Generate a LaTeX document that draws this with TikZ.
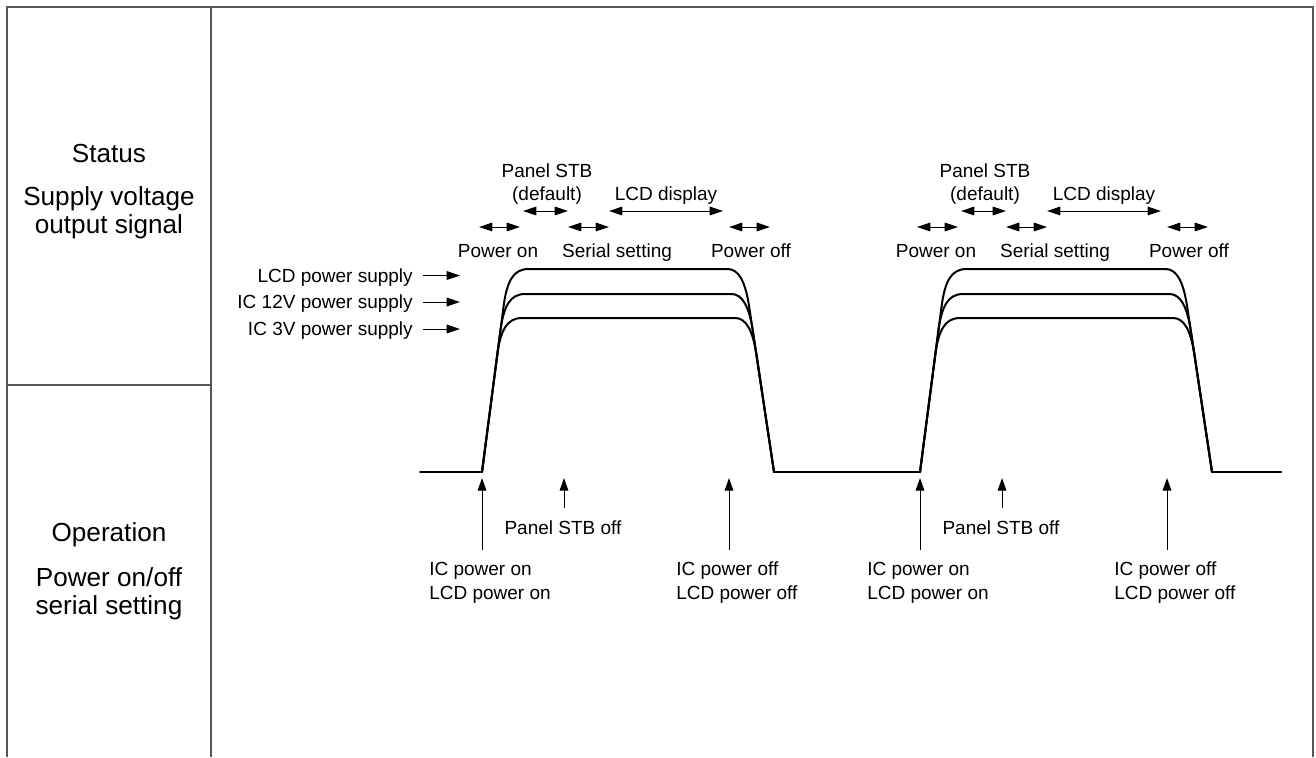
\documentclass[tikz,border=0pt]{standalone}
\usepackage{fontspec}
\setmainfont{Liberation Sans}
\usetikzlibrary{arrows.meta}
\definecolor{framegray}{RGB}{85,85,85}
\begin{document}
\begin{tikzpicture}[x=0.75pt,y=-0.75pt,
  frame/.style={line width=1.5pt,draw=framegray},
  wave/.style={line width=1.5pt,line join=round,line cap=round},
  lbl/.style={font=\fontsize{14.25}{17}\selectfont,inner sep=0pt,anchor=base},
  big/.style={font=\fontsize{19.6}{23}\selectfont,inner sep=0pt,anchor=base},
  dbl/.style={line width=0.75pt,{Triangle[length=10pt,width=6.5pt]}-{Triangle[length=10pt,width=6.5pt]}},
  sarr/.style={line width=0.75pt,-{Triangle[length=10pt,width=6.5pt]}},
  varr/.style={line width=0.75pt,-{Triangle[length=9.5pt,width=6.5pt]}}
]
\useasboundingbox (0,0) rectangle (1316,757);
% frame
\draw[frame] (7,757) -- (7,7) -- (1313,7) -- (1313,757);
\draw[frame] (211,7) -- (211,757);
\draw[frame] (7,385) -- (211,385);
% left column
\node[big] (status) at (109,162) {Status};
\node[big] (supv) at (109,205) {Supply voltage};
\node[big] (outs) at (109,233) {output signal};
\node[big] (oper) at (109,541) {Operation};
\node[big] (ponoff) at (109,586) {Power on/off};
\node[big] (sset) at (109,614) {serial setting};
% supply labels
\node[lbl,anchor=base east] (lcdps) at (413,282.3) {LCD power supply};
\node[lbl,anchor=base east] (ic12) at (413,308.8) {IC 12V power supply};
\node[lbl,anchor=base east] (ic3) at (413,335.8) {IC 3V power supply};
\coordinate (a1s) at (423,275.5); \coordinate (a1e) at (460,275.5);
\coordinate (a2s) at (423,302); \coordinate (a2e) at (460,302);
\coordinate (a3s) at (423,329); \coordinate (a3e) at (460,329);
\draw[sarr] (a1s) -- (a1e);
\draw[sarr] (a2s) -- (a2e);
\draw[sarr] (a3s) -- (a3e);
% baselines
\draw[wave] (420,472) -- (482,472);
\draw[wave] (774,472) -- (920,472);
\draw[wave] (1212,472) -- (1281,472);
\foreach \i/\dx in {1/0,2/438} {
\begin{scope}[shift={(\dx,0)}]
  % waveforms
  \draw[wave] (482,472) -- (503.5,307) .. controls (506.8,281) and (513.4,269) .. (528.4,269)
     -- (727.5,269) .. controls (738.5,269) and (745.3,281) .. (749.2,307) -- (774,472);
  \draw[wave] (482,472) -- (500.2,332) .. controls (503.5,306) and (510.1,294) .. (525.1,294)
     -- (731.3,294) .. controls (742.3,294) and (749.1,306) .. (753,332) -- (774,472);
  \draw[wave] (482,472) -- (497.1,356) .. controls (500.4,330) and (507,318) .. (522,318)
     -- (735,318) .. controls (746,318) and (752.8,330) .. (756.7,356) -- (774,472);
  % top labels
  \node[lbl] (stb\i) at (547,177) {Panel STB};
  \node[lbl] (def\i) at (547,200) {(default)};
  \node[lbl] (lcdd\i) at (666,200) {LCD display};
  \node[lbl] (pon\i) at (498,257.5) {Power on};
  \node[lbl] (ser\i) at (617,257.5) {Serial setting};
  \node[lbl] (poff\i) at (751,257.5) {Power off};
  \coordinate (d1s\i) at (523,211); \coordinate (d1e\i) at (568,211);
  \coordinate (d2s\i) at (609,211); \coordinate (d2e\i) at (723,211);
  \coordinate (d3s\i) at (479,227); \coordinate (d3e\i) at (520,227);
  \coordinate (d4s\i) at (568,227); \coordinate (d4e\i) at (609,227);
  \coordinate (d5s\i) at (729,227); \coordinate (d5e\i) at (770,227);
  \draw[dbl] (d1s\i) -- (d1e\i);
  \draw[dbl] (d2s\i) -- (d2e\i);
  \draw[dbl] (d3s\i) -- (d3e\i);
  \draw[dbl] (d4s\i) -- (d4e\i);
  \draw[dbl] (d5s\i) -- (d5e\i);
  % bottom labels
  \node[lbl] (stboff\i) at (563,534) {Panel STB off};
  \node[lbl,anchor=base west] (icon\i) at (429,575) {IC power on};
  \node[lbl,anchor=base west] (lcdon\i) at (429,599) {LCD power on};
  \node[lbl,anchor=base west] (icoff\i) at (676,575) {IC power off};
  \node[lbl,anchor=base west] (lcdoff\i) at (676,599) {LCD power off};
  \coordinate (v1s\i) at (482,550); \coordinate (v1e\i) at (482,478);
  \coordinate (v2s\i) at (564,508); \coordinate (v2e\i) at (564,478);
  \coordinate (v3s\i) at (729,550); \coordinate (v3e\i) at (729,478);
  \draw[varr] (v1s\i) -- (v1e\i);
  \draw[varr] (v2s\i) -- (v2e\i);
  \draw[varr] (v3s\i) -- (v3e\i);
\end{scope}
}
\end{tikzpicture}
\end{document}
